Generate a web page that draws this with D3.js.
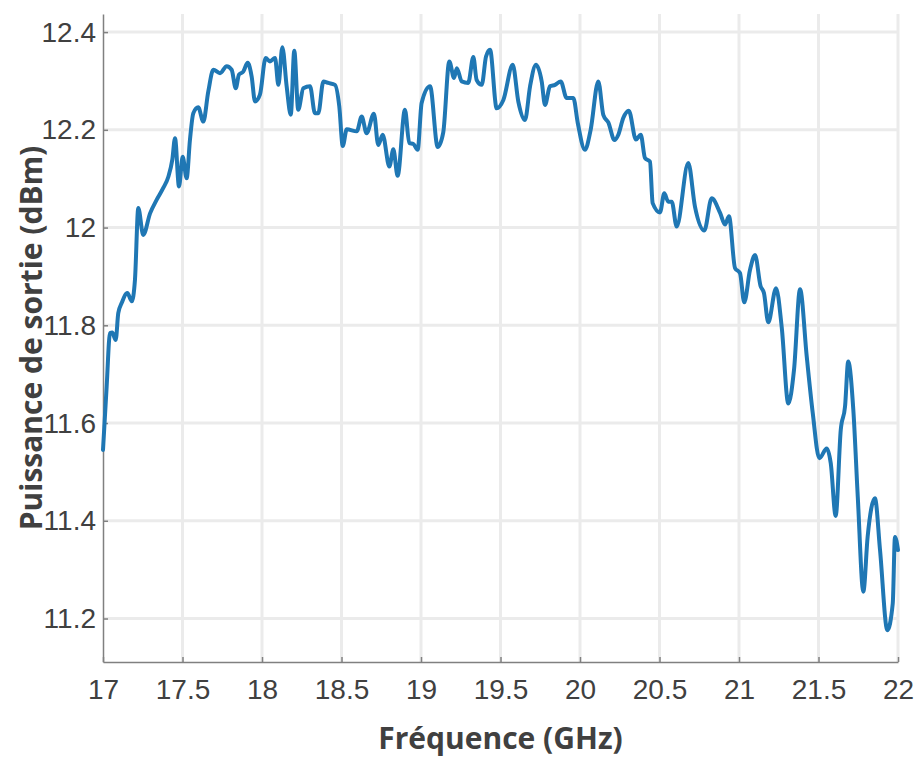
<!DOCTYPE html>
<html>
<head>
<meta charset="utf-8">
<script src="https://cdn.jsdelivr.net/npm/d3@7"></script>
<style>
  html, body { margin: 0; padding: 0; background: #fff; }
  svg { display: block; }
</style>
</head>
<body>
<svg id="chart" width="918" height="758"></svg>
<script>
// Measured output power versus frequency
const freqGHz = [
  17.000, 17.023, 17.044, 17.058, 17.080, 17.096, 17.118, 17.153, 17.181, 17.201,
  17.222, 17.253, 17.296, 17.338, 17.379, 17.411, 17.436, 17.453, 17.478, 17.501,
  17.526, 17.547, 17.568, 17.599, 17.631, 17.662, 17.694, 17.736, 17.778, 17.809,
  17.835, 17.855, 17.882, 17.910, 17.935, 17.956, 17.987, 18.023, 18.050, 18.082,
  18.103, 18.128, 18.155, 18.181, 18.203, 18.228, 18.260, 18.302, 18.333, 18.354,
  18.386, 18.417, 18.459, 18.486, 18.508, 18.533, 18.596, 18.627, 18.658, 18.704,
  18.731, 18.759, 18.801, 18.826, 18.853, 18.899, 18.926, 18.952, 18.979, 19.004,
  19.057, 19.105, 19.140, 19.178, 19.208, 19.225, 19.256, 19.297, 19.329, 19.350,
  19.382, 19.409, 19.434, 19.476, 19.518, 19.577, 19.612, 19.654, 19.686, 19.723,
  19.759, 19.780, 19.811, 19.843, 19.879, 19.916, 19.958, 19.986, 20.031, 20.067,
  20.115, 20.147, 20.178, 20.217, 20.241, 20.272, 20.307, 20.352, 20.382, 20.409,
  20.440, 20.457, 20.503, 20.530, 20.555, 20.577, 20.608, 20.681, 20.723, 20.782,
  20.828, 20.881, 20.912, 20.937, 20.975, 21.006, 21.033, 21.069, 21.101, 21.135,
  21.157, 21.184, 21.233, 21.269, 21.310, 21.346, 21.384, 21.426, 21.464, 21.505,
  21.552, 21.577, 21.608, 21.640, 21.667, 21.687, 21.719, 21.747, 21.782, 21.809,
  21.855, 21.887, 21.933, 21.967, 21.981, 22.000
];
const powerDBm = [
  11.545, 11.675, 11.784, 11.785, 11.770, 11.825, 11.846, 11.866, 11.849, 11.893,
  12.040, 11.985, 12.029, 12.057, 12.081, 12.104, 12.139, 12.183, 12.084, 12.145,
  12.101, 12.180, 12.234, 12.246, 12.217, 12.278, 12.323, 12.316, 12.330, 12.323,
  12.285, 12.313, 12.319, 12.337, 12.309, 12.258, 12.272, 12.347, 12.340, 12.347,
  12.292, 12.369, 12.289, 12.231, 12.362, 12.241, 12.285, 12.289, 12.234, 12.234,
  12.299, 12.296, 12.292, 12.248, 12.167, 12.201, 12.197, 12.227, 12.193, 12.233,
  12.169, 12.190, 12.125, 12.160, 12.106, 12.241, 12.173, 12.171, 12.159, 12.255,
  12.289, 12.165, 12.195, 12.340, 12.306, 12.326, 12.299, 12.296, 12.349, 12.302,
  12.292, 12.350, 12.364, 12.244, 12.261, 12.333, 12.258, 12.220, 12.289, 12.333,
  12.299, 12.251, 12.289, 12.292, 12.299, 12.265, 12.265, 12.214, 12.159, 12.200,
  12.299, 12.230, 12.215, 12.179, 12.190, 12.224, 12.239, 12.180, 12.190, 12.142,
  12.135, 12.050, 12.031, 12.070, 12.053, 12.053, 12.002, 12.132, 12.043, 11.994,
  12.060, 12.030, 12.006, 12.023, 11.917, 11.907, 11.847, 11.913, 11.944, 11.881,
  11.866, 11.806, 11.876, 11.795, 11.640, 11.709, 11.874, 11.736, 11.620, 11.528,
  11.548, 11.518, 11.410, 11.586, 11.634, 11.726, 11.627, 11.449, 11.255, 11.367,
  11.446, 11.340, 11.176, 11.231, 11.367, 11.340
];

const xTicks = [17, 17.5, 18, 18.5, 19, 19.5, 20, 20.5, 21, 21.5, 22];
const xTickLabels = ["17", "17.5", "18", "18.5", "19", "19.5", "20", "20.5", "21", "21.5", "22"];
const yTicks = [11.2, 11.4, 11.6, 11.8, 12, 12.2, 12.4];
const yTickLabels = ["11.2", "11.4", "11.6", "11.8", "12", "12.2", "12.4"];

const xTitle = "Fréquence (GHz)";
const yTitle = "Puissance de sortie (dBm)";

const svg = d3.select("#chart");
const margin = { left: 103, right: 20, top: 14, bottom: 96 };
const W = 918, H = 758;
const plotW = W - margin.left - margin.right;   // 795
const plotH = H - margin.top - margin.bottom;   // 648

const x = d3.scaleLinear().domain([17, 22]).range([margin.left, margin.left + plotW]);
const y = d3.scaleLinear().domain([11.111, 12.437]).range([margin.top + plotH, margin.top]);

const gridColor = "#ebebeb";
const axisColor = "#808080";
const textColor = "#404040";
const tickFont = "'Liberation Sans', Arial, sans-serif";
const titleFont = "'Open Sans', 'Noto Sans', sans-serif";

// grid
const grid = svg.append("g");
grid.selectAll("line.vx").data(xTicks.slice(1)).join("line")
  .attr("x1", d => x(d)).attr("x2", d => x(d))
  .attr("y1", margin.top).attr("y2", margin.top + plotH)
  .attr("stroke", gridColor).attr("stroke-width", 3);
grid.selectAll("line.hy").data(yTicks).join("line")
  .attr("x1", margin.left).attr("x2", margin.left + plotW)
  .attr("y1", d => y(d)).attr("y2", d => y(d))
  .attr("stroke", gridColor).attr("stroke-width", 3);

// axes (ticks point inward)
const xAxis = d3.axisBottom(x).tickValues(xTicks)
  .tickFormat((d, i) => xTickLabels[i]).tickSizeInner(-5).tickSizeOuter(0).tickPadding(17);
const yAxis = d3.axisLeft(y).tickValues(yTicks)
  .tickFormat((d, i) => yTickLabels[i]).tickSizeInner(-5).tickSizeOuter(0).tickPadding(7);

const gx = svg.append("g").attr("transform", `translate(0,${margin.top + plotH})`).call(xAxis);
const gy = svg.append("g").attr("transform", `translate(${margin.left},0)`).call(yAxis);

[gx, gy].forEach(g => {
  g.select(".domain").attr("stroke", axisColor).attr("stroke-width", 1.5);
  g.selectAll(".tick line").attr("stroke", axisColor).attr("stroke-width", 1.5);
  g.selectAll(".tick text")
    .attr("fill", textColor)
    .style("font-family", tickFont)
    .style("font-size", "28px");
});

// data line
const pts = freqGHz.map((f, i) => [f, powerDBm[i]]);
const line = d3.line()
  .x(d => x(d[0]))
  .y(d => y(d[1]))
  .curve(d3.curveMonotoneX);

svg.append("path")
  .datum(pts)
  .attr("d", line)
  .attr("fill", "none")
  .attr("stroke", "#1f77b4")
  .attr("stroke-width", 4)
  .attr("stroke-linejoin", "round")
  .attr("stroke-linecap", "round");

// titles
svg.append("text")
  .attr("x", margin.left + plotW / 2)
  .attr("y", 749)
  .attr("text-anchor", "middle")
  .attr("fill", textColor)
  .style("font-family", titleFont)
  .style("font-weight", 700)
  .style("font-size", "30px")
  .text(xTitle);

svg.append("text")
  .attr("transform", `translate(42,${margin.top + plotH / 2}) rotate(-90)`)
  .attr("text-anchor", "middle")
  .attr("fill", textColor)
  .style("font-family", titleFont)
  .style("font-weight", 700)
  .style("font-size", "30px")
  .text(yTitle);
</script>
</body>
</html>
